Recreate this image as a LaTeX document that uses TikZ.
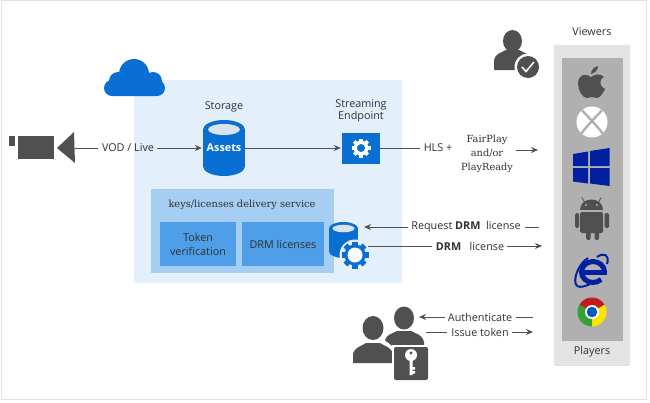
\documentclass[tikz,border=0pt]{standalone}
\usepackage{fontspec}
\setmainfont{Open Sans}
\newfontfamily\slabfont{DejaVu Serif}
\usetikzlibrary{arrows.meta}
\definecolor{paneblue}{HTML}{E3EFFB}
\definecolor{keyblue}{HTML}{A6CDF2}
\definecolor{tokenblue}{HTML}{4F9FE8}
\definecolor{azure}{HTML}{0A6FD2}
\definecolor{icongray}{HTML}{505050}
\definecolor{txtgray}{HTML}{303030}
\definecolor{winblue}{HTML}{00209F}
\tikzset{
	lbl/.style={text=txtgray, font=\fontsize{10.8}{13}\selectfont, inner sep=3pt, align=center},
	slab/.style={text=txtgray, font=\slabfont\fontsize{9.8}{14}\selectfont, inner sep=3pt, align=center},
	conn/.style={draw=icongray, line width=1pt, shorten >=1pt},
	arr/.style={conn, -{Stealth[length=7pt,width=6pt]}},
	svcbox/.style={fill=tokenblue, inner sep=0pt, minimum height=44pt, align=center, text=txtgray, font=\fontsize{10.8}{14}\selectfont}
}
% gear at x,y with radius, colour, colour of the hole
\newcommand{\geardraw}[5]{
	\fill[#4] (#1,#2) circle (#3*.78);
	\foreach \a in {0,45,90,135} \fill[#4, shift={(#1,#2)}, rotate=\a] (-#3*.2,-#3) rectangle (#3*.2,#3);
	\fill[#5] (#1,#2) circle (#3*.42);
}
% database at centre x, top y, with half width, height of the cap, full height
\newcommand{\dbdraw}[5]{
	\fill[azure] (#1,#2+#4) ellipse (#3 and #4);
	\fill[azure] (#1-#3,#2+#4) rectangle (#1+#3,#2+#5-#4);
	\fill[azure] (#1,#2+#5-#4) ellipse (#3 and #4);
	\fill[black!5!paneblue] (#1,#2+#4) ellipse (#3*.76 and #4*.58);
}
\begin{document}
\begin{tikzpicture}[x=1pt, y=-1pt]
\useasboundingbox (0,0) rectangle (650,402);
\fill[white] (0,0) rectangle (650,402);
\draw[black!12] (1,0) rectangle (646,399);
% panels
\fill[paneblue] (134,80) rectangle (402,283);
\fill[keyblue] (151,189) rectangle (334,273);
\fill[black!11] (554,45) rectangle (630,366);
\fill[black!31] (562,58) rectangle (623,341);
% cloud
\fill[azure, rounded corners=8pt] (104,80) rectangle (165,96);
\fill[azure] (134,74) circle (15) (118,81) circle (9) (153,81) circle (9);
% camera
\fill[icongray] (9,136) rectangle (15,146);
\fill[icongray] (18,136) rectangle (54,159);
\fill[icongray] (57,148) -- (74,132) -- (75,163) -- cycle;
\coordinate (camera) at (75,148);
% storage and endpoint
\node[lbl] (storagelbl) at (224,107) {Storage};
\dbdraw{224}{120}{21}{9.5}{56}
\node[text=white, inner sep=0pt, minimum width=42pt, minimum height=36pt, font=\fontsize{10.8}{13}\selectfont\bfseries] (assets) at (224,148) {Assets};
\node[lbl] (endpointlbl) at (361,111) {Streaming\\[-1.5pt]Endpoint};
\node[fill=azure, minimum width=38pt, minimum height=31pt, inner sep=0pt] (endpoint) at (361,148) {};
\geardraw{361}{148}{9.5}{white}{azure}
% key delivery
\node[slab] (keyslbl) at (242,205) {keys/licenses delivery service};
\node[svcbox, minimum width=76pt] (token) at (198,244) {Token\\verification};
\node[svcbox, minimum width=82pt] (drmbox) at (283,244) {DRM licenses};
\dbdraw{343.5}{222}{14.5}{6.5}{36}
\fill[paneblue] (355,255) circle (15.5);
\geardraw{355}{255}{13.5}{azure}{white}
\fill[white] (355,255) circle (7.5);
\coordinate (dbin) at (363,227);
\coordinate (dbout) at (368,246);
% labels on the right
\node[lbl] (vodlbl) at (128,148) {VOD / Live};
\node[lbl] (hlslbl) at (438,148) {HLS +};
\node[slab] (fairlbl) at (487,154) {FairPlay\\and/or\\PlayReady};
\node[lbl] (reqlbl) at (466,227) {Request \textbf{DRM}\ \ license};
\node[lbl] (drmlbl) at (470,246) {\textbf{DRM}\ \ \ license};
\node[lbl] (authlbl) at (480,317) {Authenticate};
\node[lbl] (tokenlbl) at (480,332) {Issue token};
\node[lbl] (viewerslbl) at (592,32) {Viewers};
\node[lbl] (playerslbl) at (592,352) {Players};
\coordinate (hlsend) at (539,150);
\coordinate (reqstart) at (539,227);
\coordinate (drmend) at (543,246);
\coordinate (authstart) at (533,317);
\coordinate (authend) at (418,317);
\coordinate (issuestart) at (426,332);
\coordinate (issueend) at (534,332);
% connectors
\draw[conn] (camera) -- (vodlbl);
\draw[arr] (vodlbl) -- (assets);
\draw[arr] (assets) -- (endpoint);
\draw[conn] (endpoint) -- (hlslbl);
\draw[arr] (fairlbl.east |- hlsend) -- (hlsend);
\draw[conn] (reqstart) -- (reqlbl);
\draw[arr] (reqlbl) -- (dbin);
\draw[conn] (dbout) -- (drmlbl);
\draw[arr] (drmlbl) -- (drmend);
\draw[conn] (authstart) -- (authlbl);
\draw[arr] (authlbl) -- (authend);
\draw[conn] (issuestart) -- (tokenlbl);
\draw[arr] (tokenlbl) -- (issueend);
% viewer with check
\fill[icongray] (512.5,41) ellipse (9.5 and 11);
\fill[icongray] (494,70) -- (494,61) .. controls (495,53) and (501,53) .. (506,50) -- (519,50) .. controls (524,53) and (530,53) .. (531,61) -- (531,70) -- cycle;
\fill[white] (528,67) circle (13.5);
\fill[icongray] (528,67) circle (11);
\draw[white, line width=1.6pt] (522,67) -- (526,71.5) -- (534,62);
% users with key
\fill[icongray] (404,318) ellipse (10 and 11.5);
\fill[icongray] (385,347) -- (385,340) .. controls (387,334) and (392,334) .. (397,331) -- (411,331) .. controls (416,334) and (422,334) .. (424,342) -- (424,347) -- cycle;
\fill[white] (373,328) ellipse (13 and 14.5);
\fill[white] (349,365) -- (349,350) -- (365,338) -- (382,338) -- (397,350) -- (397,365) -- cycle;
\fill[icongray] (373,328) ellipse (10.5 and 12);
\fill[icongray] (353,363) -- (353,354) .. controls (355,347) and (360,347) .. (366,343) -- (380,343) .. controls (386,347) and (391,347) .. (393,354) -- (393,363) -- cycle;
\fill[white] (392,345) rectangle (430,382);
\fill[icongray, rounded corners=2pt] (394,347) rectangle (428,380);
\fill[white] (411,355) circle (6);
\fill[white] (409.5,358) rectangle (412.5,375) (412,367) rectangle (415,369.5) (412,371) rectangle (415,373.5);
\fill[icongray] (411,353) circle (1.6);
% apple
\fill[icongray] (591,77) .. controls (586,73) and (578,74) .. (578,84) .. controls (578,91) and (583,98) .. (587,98) .. controls (589,98) and (590,97) .. (592,97) .. controls (594,97) and (595,98) .. (597,98) .. controls (600,98) and (603,93) .. (605,89) .. controls (600,87) and (598,80) .. (604,77) .. controls (600,73) and (595,74) .. (591,77) -- cycle;
\fill[icongray] (591,74) .. controls (591,70) and (594,67) .. (598,66) .. controls (598,70) and (595,73) .. (591,74) -- cycle;
% xbox
\fill[white] (592,122) circle (15.5);
\begin{scope}
\clip (592,122) circle (15.5);
\draw[black!31, line width=2.4pt] (580,108) .. controls (586,115) and (597,125) .. (606,138);
\draw[black!31, line width=2.4pt] (604,108) .. controls (598,115) and (587,125) .. (578,138);
\end{scope}
% windows
\fill[winblue] (573,154) -- (588,151.5) -- (588,166) -- (573,166) -- cycle;
\fill[winblue] (573,168) -- (588,168) -- (588,183.5) -- (573,181.5) -- cycle;
\fill[winblue] (590,151) -- (609.5,148) -- (609.5,166) -- (590,166) -- cycle;
\fill[winblue] (590,168) -- (609.5,168) -- (609.5,186) -- (590,183.5) -- cycle;
% android
\draw[icongray, thick] (585,203) -- (582,197.5) (598,203) -- (601,197.5);
\fill[icongray] (580,210) .. controls (580,196) and (603,196) .. (603,210) -- cycle;
\fill[black!31] (586,205) circle (1.1) (597,205) circle (1.1);
\fill[icongray, rounded corners=1.5pt] (580,212) rectangle (603,233);
\fill[icongray, rounded corners=1.5pt] (575,213) rectangle (579,228) (604.5,213) rectangle (609,228);
\fill[icongray, rounded corners=1.5pt] (586,230) rectangle (590.5,240) (594.5,230) rectangle (599,240);
% explorer
\draw[winblue, line width=5pt] (604.5,272) arc (0:-315:11.5 and 10.5);
\fill[winblue] (583,270) rectangle (606.5,275);
\draw[winblue, line width=2pt] (577,286) .. controls (572,281) and (578,264) .. (588,258) (597,257) .. controls (604,252) and (610,255) .. (607,264);
\draw[winblue, line width=2pt] (577,286) .. controls (580,288) and (586,286) .. (590,284);
% chrome
\begin{scope}[shift={(592,312)}, yscale=-1]
\fill[red!75!black!90] (0,0) -- (150:14.5) arc (150:30:14.5) -- cycle;
\fill[green!55!black!80] (0,0) -- (150:14.5) arc (150:270:14.5) -- cycle;
\fill[yellow!85!orange] (0,0) -- (270:14.5) arc (270:390:14.5) -- cycle;
\fill[white] (0,0) circle (7);
\fill[blue!50!cyan!70!black] (0,0) circle (5.3);
\end{scope}
\end{tikzpicture}
\end{document}
